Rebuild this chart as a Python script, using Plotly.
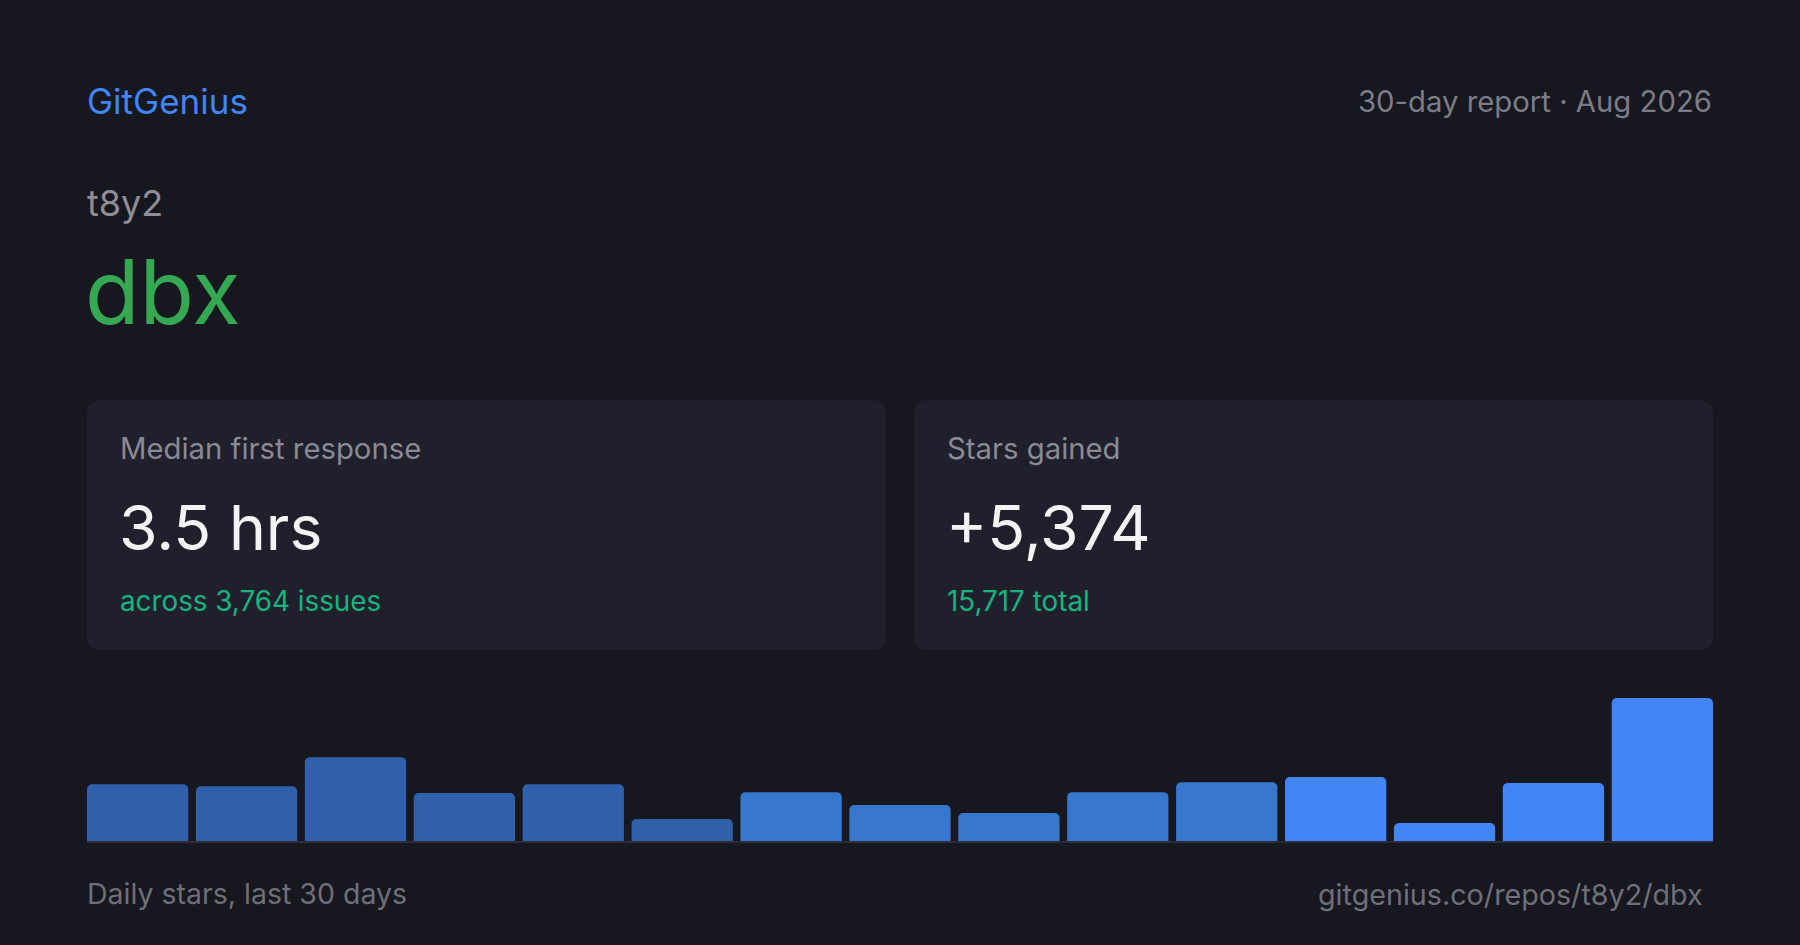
import plotly.graph_objects as go

W, H = 1800, 945

brand = "GitGenius"
report_label = "30-day report · Aug 2026"
owner = "t8y2"
repo = "dbx"

card_labels = ["Median first response", "Stars gained"]
card_values = ["3.5 hrs", "+5,374"]
card_notes = ["across 3,764 issues", "15,717 total"]

# stars per two-day bucket over the last 30 days
buckets = ["1-2", "3-4", "5-6", "7-8", "9-10", "11-12", "13-14", "15-16",
           "17-18", "19-20", "21-22", "23-24", "25-26", "27-28", "29-30"]
daily_stars = [370, 357, 546, 312, 370, 143, 318, 234, 182, 318, 383, 416, 117, 377, 931]

footer_left = "Daily stars, last 30 days"
footer_right = "gitgenius.co/repos/t8y2/dbx"

BG = "#17171f"
CARD = "#20202c"
FONT = "Inter"
bar_colors = ["#3060ab"] * 6 + ["#3777cc"] * 5 + ["#4285f4"] * 4


def px(x):
    return x / W


def py(y):
    return 1 - y / H


def rounded_rect(x0, y0, x1, y1, r):
    # path in paper coords, corners built from quadratic curves
    rx, ry = r / W, r / H
    a, b, c, d = px(x0), px(x1), py(y0), py(y1)
    return (f"M {a + rx},{c} L {b - rx},{c} Q {b},{c} {b},{c - ry} "
            f"L {b},{d + ry} Q {b},{d} {b - rx},{d} L {a + rx},{d} "
            f"Q {a},{d} {a},{d + ry} L {a},{c - ry} Q {a},{c} {a + rx},{c} Z")


def text(x, y, s, size, color, anchor="left"):
    return dict(x=px(x), y=py(y), xref="paper", yref="paper", text=s,
                showarrow=False, xanchor=anchor, yanchor="middle",
                font=dict(family=FONT, size=size, color=color))


fig = go.Figure(go.Bar(
    x=buckets, y=daily_stars,
    marker=dict(color=bar_colors, line=dict(width=0), cornerradius=5),
    hoverinfo="skip",
))

shapes = []
annotations = [
    text(85, 101, brand, 35, "#4285f4"),
    text(1714, 101, report_label, 29.3, "#7c7c87", "right"),
    text(85, 203, owner, 36, "#8e8e98"),
    text(83, 292, repo, 89, "#34a853"),
    text(85, 893, footer_left, 28.5, "#6f6f7a"),
    text(1705, 894, footer_right, 28.7, "#6f6f7a", "right"),
]

card_x = [(87, 886), (914, 1713)]
for i, (x0, x1) in enumerate(card_x):
    shapes.append(dict(type="path", path=rounded_rect(x0, 400, x1, 650, 14),
                       xref="paper", yref="paper", fillcolor=CARD,
                       line=dict(width=0), layer="below"))
    annotations.append(text(x0 + 31, 449, card_labels[i], 29.3, "#8a8a95"))
    annotations.append(text(x0 + 30, 527, card_values[i], 62.5, "#f4f4f4"))
    annotations.append(text(x0 + 31, 601, card_notes[i], 27.8, "#16b47f"))

# baseline under the bars
shapes.append(dict(type="line", xref="paper", yref="paper",
                   x0=px(87), x1=px(1713), y0=py(842), y1=py(842),
                   line=dict(color="#2c2c3a", width=2), layer="above"))

fig.update_layout(
    width=W, height=H,
    margin=dict(l=0, r=0, t=0, b=0),
    paper_bgcolor=BG, plot_bgcolor=BG,
    showlegend=False,
    bargap=0.07,
    shapes=shapes,
    annotations=annotations,
    # domain padded by half a gap so the outer bars sit flush with the cards
    xaxis=dict(type="category", domain=[px(83.2), px(1716.8)], visible=False,
               fixedrange=True),
    yaxis=dict(domain=[py(841), py(698)], range=[0, max(daily_stars)],
               visible=False, fixedrange=True),
)

fig.write_html(
    "out.html",
    config={"displayModeBar": False},
    post_script="document.body.style.margin='0';"
                "document.body.style.background='" + BG + "';",
)
